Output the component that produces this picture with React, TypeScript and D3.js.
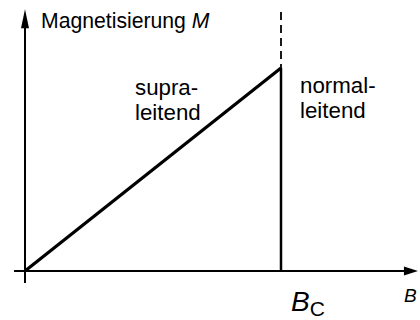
import React from "react";
import * as d3 from "d3";

const fieldB: number[] = [0, 1];
const magnetM: number[] = [0, 1];
const criticalB = 1;
const axisMaxB = 1.535;
const axisMaxM = 1.29;
const yAxisTitle = "Magnetisierung ";
const yAxisSymbol = "M";
const xAxisSymbol = "B";
const superLabel = ["supra-", "leitend"];
const normalLabel = ["normal-", "leitend"];

export default function App() {
  const W = 420, H = 320;
  const x = d3.scaleLinear().domain([0, 1]).range([25, 281]);
  const y = d3.scaleLinear().domain([0, 1]).range([271, 68]);
  const font = "'Liberation Sans', Arial, Helvetica, sans-serif";
  const line = d3.line<number>().x((_, i) => x(fieldB[i])).y((d) => y(d));
  const x0 = x(0), y0 = y(0);
  const xEnd = x(axisMaxB), yTop = y(axisMaxM);
  const xc = x(criticalB);
  const yc = y(magnetM[magnetM.length - 1]);
  return (
    <svg width={W} height={H} viewBox={`0 0 ${W} ${H}`}
      style={{ position: "absolute", left: 0, top: 0, background: "#fff" }}>
      {/* axes */}
      <line x1={x0 - 11} y1={y0} x2={xEnd - 10} y2={y0} stroke="#000" strokeWidth={2} />
      <path d={`M${xEnd},${y0} L${xEnd - 14},${y0 - 4.5} L${xEnd - 14},${y0 + 4.5} Z`} fill="#000" />
      <line x1={x0} y1={y0 + 12} x2={x0} y2={yTop + 12} stroke="#000" strokeWidth={2} />
      <path d={`M${x0},${yTop} L${x0 - 4},${yTop + 19} L${x0 + 4},${yTop + 19} Z`} fill="#000" />
      {/* critical field */}
      <line x1={xc} y1={yc} x2={xc} y2={y0} stroke="#000" strokeWidth={2.5} />
      <line x1={xc} y1={12} x2={xc} y2={yc} stroke="#000" strokeWidth={1.8} strokeDasharray="8,5" />
      {/* magnetisation line */}
      <path d={line(magnetM) || ""} fill="none" stroke="#000" strokeWidth={3.2} />
      {/* labels */}
      <text x={41} y={28} fontFamily={font} fontSize={21.2} fill="#000">
        {yAxisTitle}<tspan fontStyle="italic">{yAxisSymbol}</tspan>
      </text>
      <text fontFamily={font} fontSize={22.3} fill="#000">
        {superLabel.map((s, i) => (
          <tspan key={i} x={135} y={95 + i * 25}>{s}</tspan>
        ))}
      </text>
      <text fontFamily={font} fontSize={22.3} fill="#000">
        {normalLabel.map((s, i) => (
          <tspan key={i} x={300} y={93 + i * 25}>{s}</tspan>
        ))}
      </text>
      <text x={291} y={311} fontFamily={font} fontSize={28} fontStyle="italic" fill="#000">
        {xAxisSymbol}
        <tspan fontStyle="normal" fontSize={21} dy={5}>C</tspan>
      </text>
      <text x={404} y={302} fontFamily={font} fontSize={19} fontStyle="italic" fill="#000">
        {xAxisSymbol}
      </text>
    </svg>
  );
}
